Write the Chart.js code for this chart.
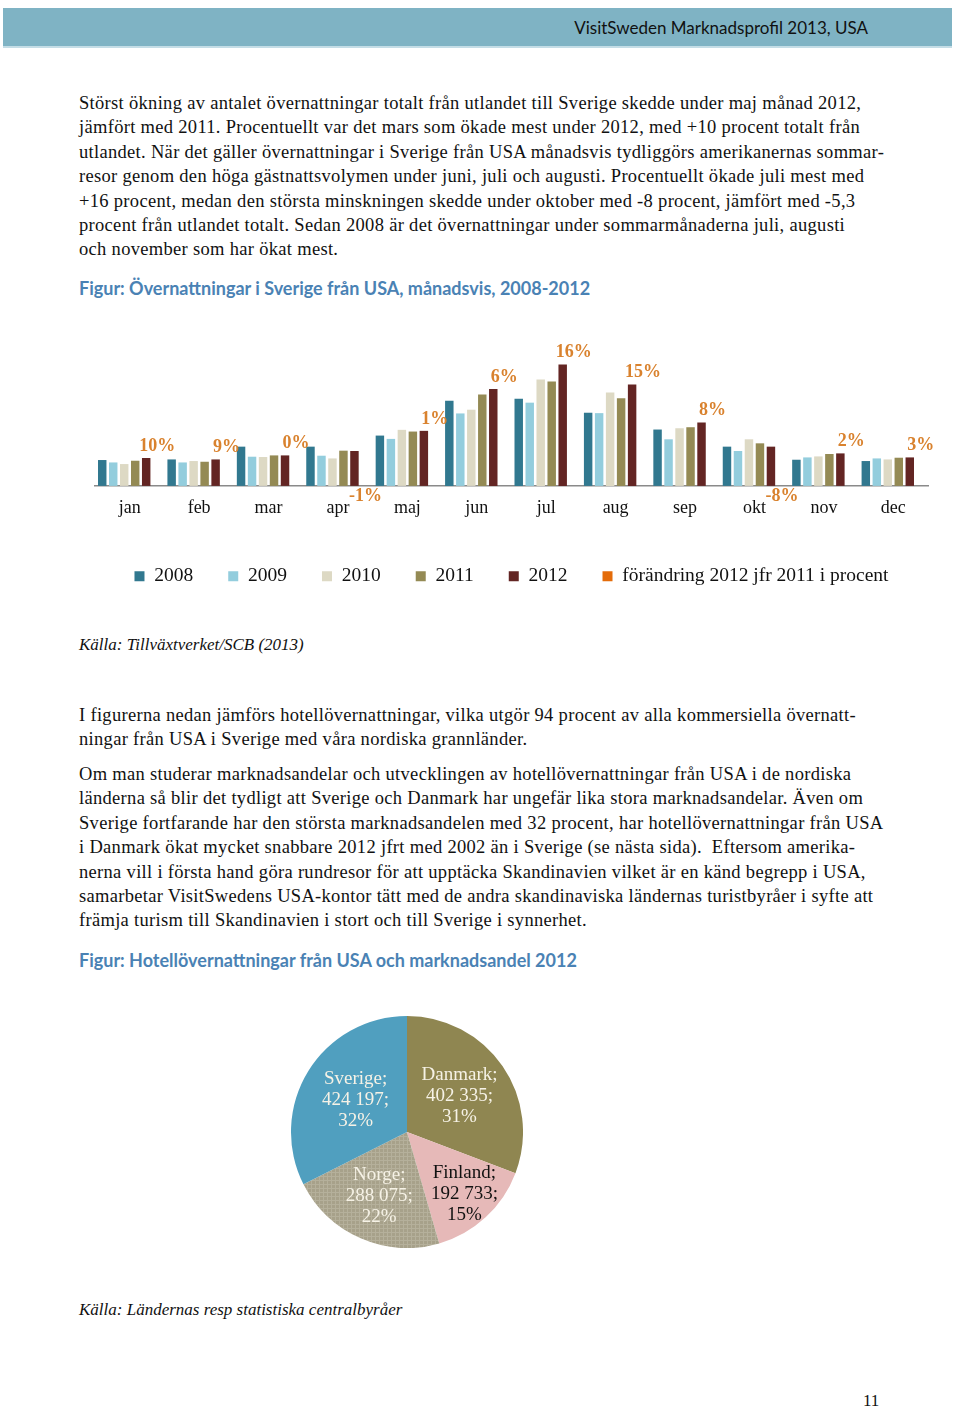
<!DOCTYPE html>
<html lang="sv">
<head>
<meta charset="utf-8">
<script src="https://cdn.jsdelivr.net/npm/chart.js@4.4.1/dist/chart.umd.min.js"></script>
<style>
  body { margin: 0; width: 960px; height: 1409px; position: relative; background: #fff; overflow: hidden; }
  .topbar { position: absolute; left: 3px; top: 8px; width: 949px; height: 38px; background: #7fb3c4; border-bottom: 2px solid #c4dde6; }
  .topbar span { position: absolute; right: 84px; top: 9px; font: 17px Lato, sans-serif; color: #111; }
  .txt { position: absolute; left: 79px; font: 18.5px "Liberation Serif", serif; letter-spacing: 0.31px; line-height: 24.4px; color: #111; white-space: nowrap; }
  .fig { position: absolute; left: 79px; font: bold 18px Lato, sans-serif; color: #4a82b4; white-space: nowrap; }
  .src { position: absolute; left: 79px; font: italic 17px "Liberation Serif", serif; color: #111; }
  .pg { position: absolute; left: 863px; top: 1391px; font: 17px "Liberation Serif", serif; color: #111; }
</style>
</head>
<body>
<div class="topbar"><span>VisitSweden Marknadsprofil 2013, USA</span></div>

<div class="txt" style="top:91px">Störst ökning av antalet övernattningar totalt från utlandet till Sverige skedde under maj månad 2012,<br>jämfört med 2011. Procentuellt var det mars som ökade mest under 2012, med +10 procent totalt från<br>utlandet. När det gäller övernattningar i Sverige från USA månadsvis tydliggörs amerikanernas sommar-<br>resor genom den höga gästnattsvolymen under juni, juli och augusti. Procentuellt ökade juli mest med<br>+16 procent, medan den största minskningen skedde under oktober med -8 procent, jämfört med -5,3<br>procent från utlandet totalt. Sedan 2008 är det övernattningar under sommarmånaderna juli, augusti<br>och november som har ökat mest.</div>

<div class="fig" style="top:277px">Figur: Övernattningar i Sverige från USA, månadsvis, 2008-2012</div>

<canvas id="chartManad" style="position:absolute;left:0;top:320px;width:960px;height:283px"></canvas>

<div class="src" style="top:635px">Källa: Tillväxtverket/SCB (2013)</div>

<div class="txt" style="top:703px">I figurerna nedan jämförs hotellövernattningar, vilka utgör 94 procent av alla kommersiella övernatt-<br>ningar från USA i Sverige med våra nordiska grannländer.</div>

<div class="txt" style="top:762px">Om man studerar marknadsandelar och utvecklingen av hotellövernattningar från USA i de nordiska<br>länderna så blir det tydligt att Sverige och Danmark har ungefär lika stora marknadsandelar. Även om<br>Sverige fortfarande har den största marknadsandelen med 32 procent, har hotellövernattningar från USA<br>i Danmark ökat mycket snabbare 2012 jfrt med 2002 än i Sverige (se nästa sida).&nbsp; Eftersom amerika-<br>nerna vill i första hand göra rundresor för att upptäcka Skandinavien vilket är en känd begrepp i USA,<br>samarbetar VisitSwedens USA-kontor tätt med de andra skandinaviska ländernas turistbyråer i syfte att<br>främja turism till Skandinavien i stort och till Sverige i synnerhet.</div>

<div class="fig" style="top:949px">Figur: Hotellövernattningar från USA och marknadsandel 2012</div>

<canvas id="chartPie" style="position:absolute;left:291px;top:1016px;width:232px;height:232px"></canvas>

<div class="src" style="top:1300px">Källa: Ländernas resp statistiska centralbyråer</div>
<div class="pg">11</div>

<script>
// övernattningar per månad (relativa värden)
const manader = ['jan', 'feb', 'mar', 'apr', 'maj', 'jun', 'jul', 'aug', 'sep', 'okt', 'nov', 'dec'];
const ar2008 = [25.7, 26.3, 39, 39, 50, 84.7, 86.7, 72.7, 56, 39, 26, 24.7];
const ar2009 = [23.3, 23.3, 29, 30, 46.7, 72, 82.7, 72.3, 46.3, 34.7, 28.3, 27.3];
const ar2010 = [21.7, 24.7, 28.7, 27.3, 55.7, 75.7, 105.7, 92.7, 57.3, 46.3, 29.3, 26.3];
const ar2011 = [25, 24, 30.3, 35, 54, 90.7, 103.7, 87, 58.3, 42.3, 31.7, 28];
const ar2012 = [27.7, 26.3, 30.3, 34.7, 54.7, 96.3, 120.7, 100.7, 63, 39, 32.3, 28.3];
const forandring = [10, 9, 0, -1, 1, 6, 16, 15, 8, -8, 2, 3];

// hotellövernattningar 2012
const lander = ['Danmark', 'Finland', 'Norge', 'Sverige'];
const hotellNatter = [402335, 192733, 288075, 424197];

const serif = '"Liberation Serif", serif';
const orange = '#e46c0a';

const procentEtiketter = {
  id: 'procentEtiketter',
  afterDatasetsDraw(chart) {
    const ctx = chart.ctx;
    const m2012 = chart.getDatasetMeta(4);
    const mPct = chart.getDatasetMeta(5);
    const noll = chart.scales.y.getPixelForValue(0);
    ctx.save();
    ctx.font = 'bold 18px ' + serif;
    ctx.fillStyle = '#d9822e';
    ctx.textAlign = 'center';
    ctx.textBaseline = 'middle';
    forandring.forEach((p, i) => {
      const x = mPct.data[i].x;
      const y = p >= 0 ? m2012.data[i].y - 12 : noll + 10;
      ctx.fillText(p + '%', x, y);
    });
    ctx.restore();
  }
};

new Chart(document.getElementById('chartManad'), {
  type: 'bar',
  data: {
    labels: manader,
    datasets: [
      { label: '2008', data: ar2008, backgroundColor: '#31788f' },
      { label: '2009', data: ar2009, backgroundColor: '#93cddd' },
      { label: '2010', data: ar2010, backgroundColor: '#ddd9c4' },
      { label: '2011', data: ar2011, backgroundColor: '#948a54' },
      { label: '2012', data: ar2012, backgroundColor: '#632523' },
      { label: 'förändring 2012 jfr 2011 i procent', data: forandring, yAxisID: 'y2', backgroundColor: 'rgba(0,0,0,0)' }
    ]
  },
  options: {
    responsive: false,
    animation: false,
    categoryPercentage: 0.95,
    barPercentage: 0.77,
    layout: { padding: { left: 95, right: 32, top: 25, bottom: 7 } },
    scales: {
      x: {
        grid: { display: false, drawTicks: false },
        border: { color: '#8a8a8a', width: 1.5 },
        ticks: { color: '#111', font: { family: serif, size: 18 }, padding: 12 }
      },
      y: { display: false, min: 0, max: 140 },
      y2: { display: false, min: 0, max: 100 }
    },
    plugins: {
      tooltip: { enabled: false },
      legend: {
        position: 'bottom',
        labels: {
          boxWidth: 10,
          boxHeight: 10,
          padding: 35,
          color: '#111',
          font: { family: serif, size: 19.5 },
          generateLabels(chart) {
            const items = Chart.defaults.plugins.legend.labels.generateLabels(chart);
            items.forEach(it => { it.lineWidth = 0; });
            items[5].fillStyle = orange;
            return items;
          }
        }
      }
    }
  },
  plugins: [procentEtiketter]
});

// mönster för Norge
const mc = document.createElement('canvas');
mc.width = 4; mc.height = 4;
const mctx = mc.getContext('2d');
mctx.fillStyle = '#a7a18a';
mctx.fillRect(0, 0, 4, 4);
mctx.fillStyle = '#b5b09b';
mctx.fillRect(0, 0, 4, 1);
mctx.fillRect(0, 0, 1, 4);
const norgeMonster = mctx.createPattern(mc, 'repeat');

const summa = hotellNatter.reduce((a, b) => a + b, 0);
const fmt = v => String(v).replace(/\B(?=(\d{3})+(?!\d))/g, ' ');
const radieFaktor = [0.55, 0.73, 0.6, 0.52];

const pieEtiketter = {
  id: 'pieEtiketter',
  afterDatasetsDraw(chart) {
    const ctx = chart.ctx;
    const meta = chart.getDatasetMeta(0);
    ctx.save();
    ctx.font = '19px ' + serif;
    ctx.textAlign = 'center';
    ctx.textBaseline = 'middle';
    meta.data.forEach((arc, i) => {
      const mid = (arc.startAngle + arc.endAngle) / 2;
      const r = arc.outerRadius * radieFaktor[i];
      const x = arc.x + Math.cos(mid) * r;
      const y = arc.y + Math.sin(mid) * r;
      const rader = [lander[i] + ';', fmt(hotellNatter[i]) + ';', Math.round(hotellNatter[i] / summa * 100) + '%'];
      ctx.fillStyle = lander[i] === 'Finland' ? '#111' : '#f6f2e6';
      rader.forEach((t, j) => ctx.fillText(t, x, y + (j - 1) * 21));
    });
    ctx.restore();
  }
};

new Chart(document.getElementById('chartPie'), {
  type: 'pie',
  data: {
    labels: lander,
    datasets: [{
      data: hotellNatter,
      backgroundColor: ['#8f8651', '#e6b9b8', norgeMonster, '#509fbf'],
      borderWidth: 0
    }]
  },
  options: {
    responsive: false,
    animation: false,
    plugins: { legend: { display: false }, tooltip: { enabled: false } }
  },
  plugins: [pieEtiketter]
});
</script>
</body>
</html>
